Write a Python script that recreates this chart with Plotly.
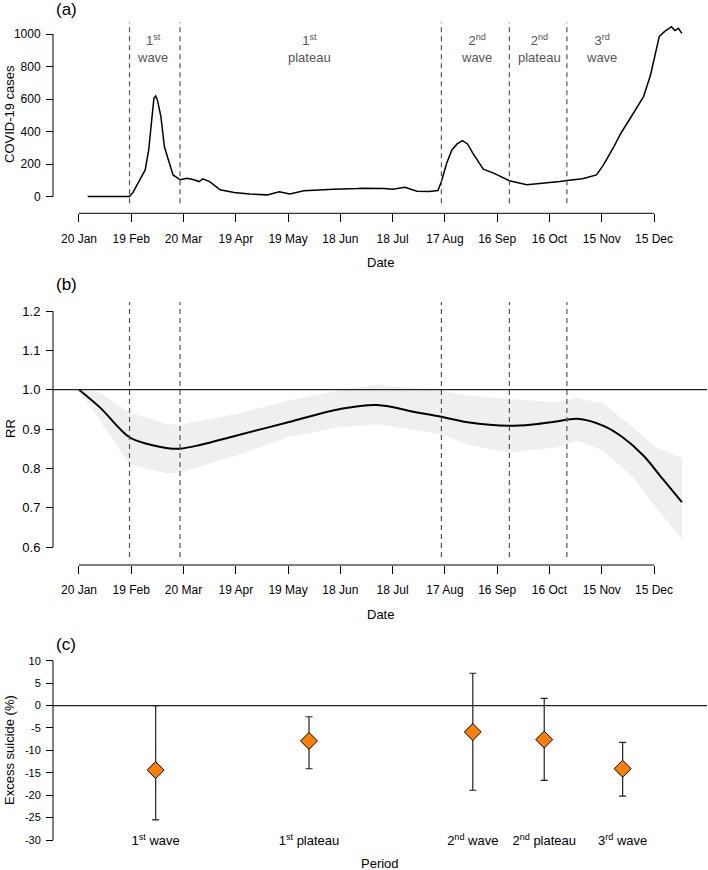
import plotly.graph_objects as go

W, H = 708, 870
FONT = "Liberation Sans, Arial, sans-serif"

# ---------------- data ----------------
tick_dates = ["2020-01-20", "2020-02-19", "2020-03-20", "2020-04-19", "2020-05-19", "2020-06-18",
              "2020-07-18", "2020-08-17", "2020-09-16", "2020-10-16", "2020-11-15", "2020-12-15"]
tick_labels = ["20 Jan", "19 Feb", "20 Mar", "19 Apr", "19 May", "18 Jun",
               "18 Jul", "17 Aug", "16 Sep", "16 Oct", "15 Nov", "15 Dec"]

case_dates = ["2020-01-25", "2020-02-18", "2020-02-20", "2020-02-24", "2020-02-27", "2020-02-29",
              "2020-03-02", "2020-03-03", "2020-03-04", "2020-03-05", "2020-03-07", "2020-03-09",
              "2020-03-11", "2020-03-14", "2020-03-18", "2020-03-22", "2020-03-26", "2020-03-29",
              "2020-03-31", "2020-04-04", "2020-04-10", "2020-04-18", "2020-04-27", "2020-05-07",
              "2020-05-14", "2020-05-20", "2020-05-28", "2020-06-04", "2020-06-14", "2020-06-28",
              "2020-07-01", "2020-07-13", "2020-07-18", "2020-07-25", "2020-08-01", "2020-08-08",
              "2020-08-13", "2020-08-15", "2020-08-18", "2020-08-21", "2020-08-24", "2020-08-27",
              "2020-08-30", "2020-09-02", "2020-09-08", "2020-09-14", "2020-09-23", "2020-10-03",
              "2020-10-12", "2020-10-22", "2020-10-26", "2020-11-04", "2020-11-12", "2020-11-16",
              "2020-11-22", "2020-11-26", "2020-12-02", "2020-12-09", "2020-12-13", "2020-12-16",
              "2020-12-18", "2020-12-21", "2020-12-25", "2020-12-27", "2020-12-29", "2020-12-31"]
case_values = [0, 0, 25, 103, 164, 287,
               493, 606, 620, 595, 493, 308,
               236, 133, 103, 113, 103, 92,
               109, 92, 41, 25, 16, 10,
               29, 16, 35, 41, 45, 49,
               51, 49, 45, 57, 33, 31,
               37, 92, 205, 287, 324, 345,
               324, 267, 168, 144, 97, 72,
               80, 92, 99, 109, 133, 195,
               308, 390, 493, 616, 749, 883,
               986, 1016, 1047, 1023, 1037, 1006]

rr_dates = ["2020-01-20", "2020-02-01", "2020-02-18", "2020-03-01", "2020-03-10", "2020-03-18",
            "2020-03-30", "2020-04-19", "2020-05-19", "2020-06-18", "2020-07-09", "2020-08-01",
            "2020-08-15", "2020-08-30", "2020-09-23", "2020-10-09", "2020-10-20", "2020-11-01",
            "2020-11-16", "2020-11-27", "2020-12-09", "2020-12-20", "2020-12-31"]
rr_values = [1.0, 0.955, 0.879, 0.860, 0.852, 0.850,
             0.860, 0.883, 0.917, 0.951, 0.961, 0.942,
             0.931, 0.917, 0.908, 0.913, 0.919, 0.926,
             0.908, 0.879, 0.832, 0.773, 0.714]

band_dates = ["2020-01-20", "2020-02-01", "2020-02-18", "2020-03-10", "2020-03-18", "2020-04-19",
              "2020-05-19", "2020-06-18", "2020-07-09", "2020-08-15", "2020-08-30", "2020-09-23",
              "2020-10-20", "2020-11-01", "2020-11-16", "2020-12-03", "2020-12-16", "2020-12-31"]
band_upper = [1.0, 0.993, 0.942, 0.913, 0.911, 0.938,
              0.972, 0.998, 1.013, 0.997, 0.985, 0.976,
              0.968, 0.979, 0.964, 0.904, 0.853, 0.826]
band_lower = [1.0, 0.921, 0.810, 0.787, 0.790, 0.832,
              0.879, 0.905, 0.912, 0.887, 0.860, 0.840,
              0.853, 0.870, 0.845, 0.777, 0.701, 0.620]

period_bounds = ["2020-02-18", "2020-03-18", "2020-08-15", "2020-09-23", "2020-10-26"]
period_names_a = ["1<sup>st</sup><br>wave", "1<sup>st</sup><br>plateau", "2<sup>nd</sup><br>wave",
                  "2<sup>nd</sup><br>plateau", "3<sup>rd</sup><br>wave"]
period_label_dates = ["2020-03-02", "2020-05-31", "2020-09-04", "2020-10-10", "2020-11-15"]

period_names = ["1<sup>st</sup> wave", "1<sup>st</sup> plateau", "2<sup>nd</sup> wave",
                "2<sup>nd</sup> plateau", "3<sup>rd</sup> wave"]
period_mid = ["2020-03-04", "2020-05-31", "2020-09-02", "2020-10-13", "2020-11-27"]
excess_est = [-14.4, -7.9, -5.9, -7.6, -14.1]
excess_lower = [-25.5, -14.1, -18.9, -16.7, -20.2]
excess_upper = [0.0, -2.5, 7.2, 1.6, -8.2]

c_ticks = [10, 5, 0, -5, -10, -15, -20, -25, -30]
c_ticktext = ["10", "5", "0", "-5", "-10", "-15", "-20", "-25", "-30"]

# ---------------- helpers ----------------
def py(p):
    return 1 - p / H

def pxx(p):
    return p / W

XRANGE = ["2020-01-05 02:00", "2021-01-14 10:00"]
XDOM = [pxx(53), pxx(707)]

fig = go.Figure()

# (a) cases
fig.add_trace(go.Scatter(x=case_dates, y=case_values, mode="lines",
                         line=dict(color="black", width=1.5), xaxis="x", yaxis="y",
                         showlegend=False, hoverinfo="skip"))

# (b) band + RR
fig.add_trace(go.Scatter(x=band_dates + band_dates[::-1], y=band_upper + band_lower[::-1],
                         fill="toself", fillcolor="#EFEFEF", line=dict(width=0),
                         mode="lines", xaxis="x2", yaxis="y2", showlegend=False, hoverinfo="skip"))
fig.add_trace(go.Scatter(x=rr_dates, y=rr_values, mode="lines", line_shape="spline",
                         line=dict(color="black", width=2), xaxis="x2", yaxis="y2",
                         showlegend=False, hoverinfo="skip"))

# (c) excess suicide
err_plus = [u - e for u, e in zip(excess_upper, excess_est)]
err_minus = [e - l for e, l in zip(excess_est, excess_lower)]
fig.add_trace(go.Scatter(x=period_mid, y=excess_est, mode="markers",
                         marker=dict(symbol="diamond", size=13, color="#FF8000",
                                     line=dict(color="black", width=1)),
                         error_y=dict(type="data", array=err_plus, arrayminus=err_minus,
                                      color="#222222", thickness=1.2, width=3.5),
                         xaxis="x3", yaxis="y3", showlegend=False, hoverinfo="skip"))

common_x = dict(domain=XDOM, range=XRANGE, type="date", showgrid=False, zeroline=False,
                showline=False)
common_y = dict(showgrid=False, zeroline=False, showline=False, anchor="free", position=pxx(53),
                ticks="outside", ticklen=7, tickcolor="black", tickwidth=1,
                ticklabelstandoff=3)

fig.update_layout(
    width=W, height=H, margin=dict(l=0, r=0, t=0, b=0, autoexpand=False),
    paper_bgcolor="white", plot_bgcolor="white",
    font=dict(family=FONT, color="black"),
    xaxis=dict(**common_x, anchor="free", position=py(213.3), tickvals=tick_dates, ticktext=tick_labels,
               ticks="outside", ticklen=8, tickcolor="black", tickwidth=1, ticklabelstandoff=6,
               tickfont=dict(size=12, color="black", family=FONT)),
    yaxis=dict(**common_y, domain=[py(203.3), py(22.6)], range=[-42, 1072],
               tickvals=[0, 200, 400, 600, 800, 1000], tickfont=dict(size=12, color="black", family=FONT)),
    xaxis2=dict(**common_x, anchor="free", position=py(565), tickvals=tick_dates, ticktext=tick_labels,
                ticks="outside", ticklen=8, tickcolor="black", tickwidth=1, ticklabelstandoff=6,
                tickfont=dict(size=12, color="black", family=FONT)),
    yaxis2=dict(**common_y, domain=[py(557), py(302)], range=[0.5746, 1.2229],
                tickvals=[0.6, 0.7, 0.8, 0.9, 1.0, 1.1, 1.2], tickformat=".1f",
                tickfont=dict(size=13, color="black", family=FONT)),
    xaxis3=dict(**common_x, anchor="free", position=py(831), tickvals=period_mid, ticktext=period_names,
                ticks="", ticklabelstandoff=0, tickfont=dict(size=13, color="black", family=FONT)),
    yaxis3=dict(**common_y, domain=[py(845), py(650)], range=[-31.115, 12.387],
                tickvals=c_ticks, ticktext=c_ticktext, tickfont=dict(size=11, color="black", family=FONT)),
)

shapes = []
# axis lines (R style: first to last tick)
for xa, pos in (("x", 213.3), ("x2", 565)):
    shapes.append(dict(type="line", xref=xa, yref="paper", x0=tick_dates[0], x1=tick_dates[-1],
                       y0=py(pos), y1=py(pos), line=dict(color="black", width=1)))
for ya, lo, hi in (("y", 0, 1000), ("y2", 0.6, 1.2), ("y3", -30, 10)):
    shapes.append(dict(type="line", xref="paper", yref=ya, x0=pxx(53), x1=pxx(53),
                       y0=lo, y1=hi, line=dict(color="black", width=1)))
# dashed period boundaries
for xa, ya in (("x", "y"), ("x2", "y2")):
    for d in period_bounds:
        shapes.append(dict(type="line", xref=xa, yref=ya + " domain", x0=d, x1=d, y0=0, y1=1,
                           line=dict(color="#555555", width=1.2, dash="5px,4px")))
# reference lines
shapes.append(dict(type="line", xref="x2 domain", yref="y2", x0=0, x1=1, y0=1.0, y1=1.0,
                   line=dict(color="#222222", width=1.3)))
shapes.append(dict(type="line", xref="x3 domain", yref="y3", x0=0, x1=1, y0=0, y1=0,
                   line=dict(color="#222222", width=1.3)))
fig.update_layout(shapes=shapes)

ann = []
for name, d in zip(period_names_a, period_label_dates):
    ann.append(dict(x=d, y=py(49), xref="x", yref="paper", text=name, showarrow=False,
                    font=dict(size=13, color="#555555", family=FONT), xanchor="center", yanchor="middle"))
for txt, x, y, sz in (("(a)", 66, 10, 17), ("(b)", 66, 284, 17), ("(c)", 66, 644, 17)):
    ann.append(dict(x=pxx(x), y=py(y), xref="paper", yref="paper", text=txt, showarrow=False,
                    font=dict(size=sz, color="black", family=FONT), xanchor="center", yanchor="middle"))
for txt, x, y in (("Date", 380, 262), ("Date", 380, 614), ("Period", 380, 863)):
    ann.append(dict(x=pxx(x), y=py(y), xref="paper", yref="paper", text=txt, showarrow=False,
                    font=dict(size=13, color="black", family=FONT), xanchor="center", yanchor="middle"))
for txt, x, y in (("COVID-19 cases", 9, 114), ("RR", 10, 429), ("Excess suicide (%)", 9, 750)):
    ann.append(dict(x=pxx(x), y=py(y), xref="paper", yref="paper", text=txt, showarrow=False,
                    textangle=-90, font=dict(size=13, color="black", family=FONT),
                    xanchor="center", yanchor="middle"))
fig.update_layout(annotations=ann)

fig.write_html("out.html", config={"displayModeBar": False},
               post_script="document.body.style.margin='0';document.body.style.padding='0';")
